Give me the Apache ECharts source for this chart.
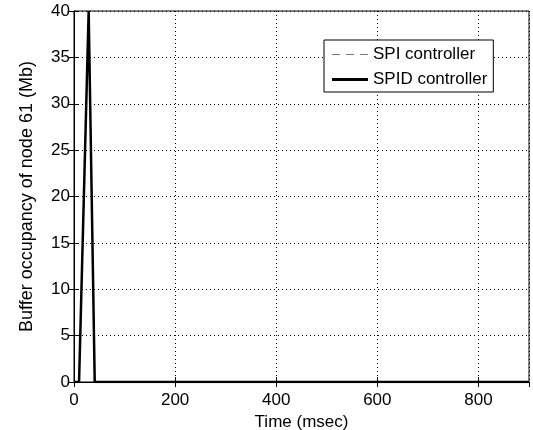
<!DOCTYPE html>
<html>
<head>
<meta charset="utf-8">
<script src="https://cdn.jsdelivr.net/npm/echarts@6/dist/echarts.min.js"></script>
<style>html,body{margin:0;padding:0;background:#fff}#c{width:533px;height:430px}</style>
</head>
<body>
<div id="c"></div>
<script>
var xTicks = [0, 200, 400, 600, 800];
var yTicks = [0, 5, 10, 15, 20, 25, 30, 35, 40];
var spiTime = [0, 10, 29, 32, 41, 900];
var spiValue = [0, 0, 40, 40, 0, 0];
var spidTime = [0, 10, 29, 32, 41, 900];
var spidValue = [0, 0, 40, 40, 0, 0];
var seriesNames = ['SPI controller', 'SPID controller'];

function pairs(t, v) { return t.map(function (x, i) { return [x, v[i]]; }); }

var font = 'Liberation Sans, Arial, Helvetica, sans-serif';
var chart = echarts.init(document.getElementById('c'), null, {renderer: 'canvas'});
var axisLine = {show: true, lineStyle: {color: '#000', width: 1}};
var split = {show: true, lineStyle: {color: '#000', type: [1, 3], width: 1}};
chart.setOption({
  animation: false,
  backgroundColor: '#fff',
  grid: {left: 74, right: 4, top: 11, bottom: 48, show: true, borderColor: '#000', borderWidth: 1,
    backgroundColor: 'transparent', outerBoundsMode: 'none', containLabel: false},
  legend: {
    orient: 'vertical', left: 324, top: 40,
    data: [
      {name: seriesNames[0], icon: 'path://M0,0H0.01V0.01H0ZM0,3H0.01V2.99H0ZM0,1H8V2H0ZM14,1H22V2H14ZM28,1H36V2H28Z', itemStyle: {color: '#777'}},
      {name: seriesNames[1], icon: 'path://M0,0H36V3H0Z', itemStyle: {color: '#000'}}
    ],
    itemWidth: 36, itemHeight: 3, itemGap: 8,
    padding: [6, 6, 4, 8],
    borderColor: '#000', borderWidth: 1, backgroundColor: '#fff',
    textStyle: {fontFamily: font, fontSize: 17, lineHeight: 17, color: '#000'}
  },
  xAxis: [{
    type: 'value', min: 0, max: 900, interval: 200,
    name: 'Time (msec)', nameLocation: 'middle', nameGap: 22,
    nameTextStyle: {fontFamily: font, fontSize: 17, color: '#000'},
    axisLine: axisLine,
    axisTick: {show: true, inside: true, length: 5, lineStyle: {color: '#000'}},
    axisLabel: {fontFamily: font, fontSize: 17, color: '#000', margin: 10, showMaxLabel: false,
      formatter: function (v) { return xTicks.indexOf(v) >= 0 ? String(v) : ''; }},
    splitLine: split
  }, {
    type: 'value', position: 'top', min: 0, max: 900, interval: 200,
    axisLine: axisLine, axisTick: {show: true, inside: true, length: 5, lineStyle: {color: '#000'}},
    axisLabel: {show: false}, splitLine: {show: false}
  }],
  yAxis: [{
    type: 'value', min: 0, max: 40, interval: 5,
    name: 'Buffer occupancy of node 61 (Mb)', nameLocation: 'middle', nameGap: 38,
    nameTextStyle: {fontFamily: font, fontSize: 18, color: '#000'},
    axisLine: axisLine,
    axisTick: {show: true, inside: true, length: 5, lineStyle: {color: '#000'}},
    axisLabel: {fontFamily: font, fontSize: 17, color: '#000', margin: 4,
      formatter: function (v) { return yTicks.indexOf(v) >= 0 ? String(v) : ''; }},
    splitLine: split
  }, {
    type: 'value', position: 'right', min: 0, max: 40, interval: 5,
    axisLine: axisLine, axisTick: {show: true, inside: true, length: 5, lineStyle: {color: '#000'}},
    axisLabel: {show: false}, splitLine: {show: false}
  }],
  series: [{
    name: seriesNames[0], type: 'line', data: pairs(spiTime, spiValue),
    showSymbol: false, symbol: 'none', clip: true,
    lineStyle: {color: '#888', width: 1.2, type: [6, 4]},
    itemStyle: {color: '#888'}
  }, {
    name: seriesNames[1], type: 'line', data: pairs(spidTime, spidValue),
    showSymbol: false, symbol: 'none', clip: true,
    lineStyle: {color: '#000', width: 2.5},
    itemStyle: {color: '#000'}
  }]
});
</script>
</body>
</html>
